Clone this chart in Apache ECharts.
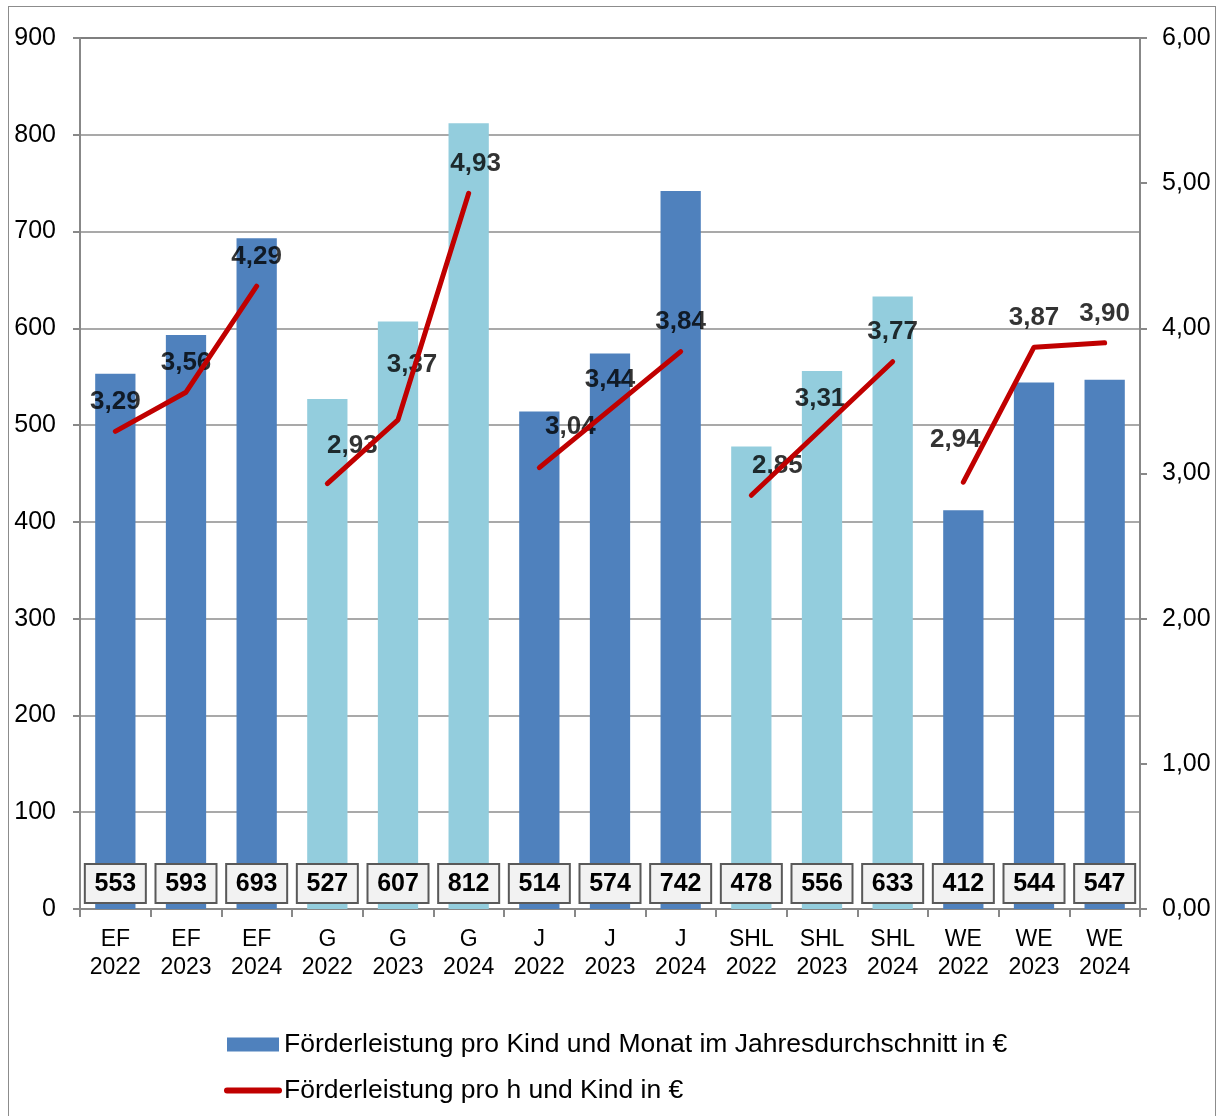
<!DOCTYPE html>
<html>
<head>
<meta charset="utf-8">
<script src="https://cdn.jsdelivr.net/npm/echarts@6/dist/echarts.min.js"></script>
<style>
  html, body { margin: 0; padding: 0; background: #fff; }
  #frame { position: absolute; left: 8px; top: 6px; width: 1208px; height: 1130px; border: 1px solid #8c8c8c; box-sizing: border-box; }
  #chart { position: absolute; left: 0; top: 0; width: 1222px; height: 1116px; }
</style>
</head>
<body>
<div id="frame"></div>
<div id="chart"></div>
<script>
// Daten
const groups = ['EF', 'EF', 'EF', 'G', 'G', 'G', 'J', 'J', 'J', 'SHL', 'SHL', 'SHL', 'WE', 'WE', 'WE'];
const years = ['2022', '2023', '2024', '2022', '2023', '2024', '2022', '2023', '2024', '2022', '2023', '2024', '2022', '2023', '2024'];
const monthlyValues = [553, 593, 693, 527, 607, 812, 514, 574, 742, 478, 556, 633, 412, 544, 547];
const hourlyValues = [3.29, 3.56, 4.29, 2.93, 3.37, 4.93, 3.04, 3.44, 3.84, 2.85, 3.31, 3.77, 2.94, 3.87, 3.90];
const leftTicks = [0, 100, 200, 300, 400, 500, 600, 700, 800, 900];
const rightTicks = [0, 1, 2, 3, 4, 5, 6];
const barName = 'Förderleistung pro Kind und Monat im Jahresdurchschnitt in €';
const lineName = 'Förderleistung pro h und Kind in €';

const categories = groups.map((g, i) => g + '\n' + years[i]);
const groupOrder = ['EF', 'G', 'J', 'SHL', 'WE'];

const darkBlue = '#4f81bd';
const lightBlue = '#93cddd';
const red = '#c00000';

// Verschiebung der Linienbeschriftung (wie im Original)
const labelShift = {
  3: [25, -8], 4: [14, -25], 5: [7, 0], 6: [31, -11], 9: [26, 0], 10: [-2, 0], 12: [-8, -13]
};

const fmt = v => v.toFixed(2).replace('.', ',');

const chart = echarts.init(document.getElementById('chart'));

const barData = monthlyValues.map((v, i) => ({
  value: v,
  itemStyle: { color: groupOrder.indexOf(groups[i]) % 2 === 0 ? darkBlue : lightBlue }
}));

// eine Linie je Gruppe, damit zwischen den Gruppen nichts verbunden wird
const lineSeries = groupOrder.map(g => ({
  name: lineName,
  type: 'line',
  yAxisIndex: 1,
  symbol: 'none',
  z: 5,
  lineStyle: { color: red, width: 5, cap: 'round', join: 'round' },
  itemStyle: { color: red },
  data: hourlyValues.map((v, i) => (groups[i] === g ? v : '-'))
}));

// Beschriftung der Linie über unsichtbare Punkte (unter der Linie)
const lineLabels = {
  name: 'labels',
  type: 'scatter',
  yAxisIndex: 1,
  symbolSize: 1,
  z: 4,
  itemStyle: { color: 'rgba(0,0,0,0)' },
  data: hourlyValues.map((v, i) => {
    const item = { value: v };
    if (labelShift[i]) item.label = { offset: labelShift[i] };
    return item;
  }),
  label: {
    show: true,
    position: 'top',
    distance: 16,
    formatter: p => fmt(p.value),
    fontFamily: 'Liberation Sans',
    fontSize: 26,
    fontWeight: 'bold',
    color: '#000'
  },
  tooltip: { show: false }
};

const option = {
  animation: false,
  backgroundColor: 'transparent',
  textStyle: { fontFamily: 'Liberation Sans' },
  grid: {
    left: 80, right: 82, top: 38, bottom: 207,
    show: true, borderColor: '#222', borderWidth: 1.5, backgroundColor: 'transparent'
  },
  legend: {
    orient: 'vertical',
    left: 219,
    top: 1026,
    itemWidth: 52,
    itemHeight: 14,
    itemGap: 19,
    data: [
      { name: barName, icon: 'rect' },
      { name: lineName, lineStyle: { width: 6, cap: 'round' }, itemStyle: { opacity: 0 } }
    ],
    textStyle: { fontFamily: 'Liberation Sans', fontSize: 26.5, color: '#000' }
  },
  xAxis: {
    type: 'category',
    data: categories,
    axisLine: { lineStyle: { color: '#888', width: 2 } },
    axisTick: { show: true, length: 8, lineStyle: { color: '#888', width: 2 } },
    axisLabel: { color: '#000', fontSize: 23, lineHeight: 28, margin: 17, interval: 0 },
    splitLine: { show: false }
  },
  yAxis: [
    {
      type: 'value',
      min: leftTicks[0],
      max: leftTicks[leftTicks.length - 1],
      interval: 100,
      axisLine: { show: true, lineStyle: { color: '#888', width: 2 } },
      axisTick: { show: true, length: 7, lineStyle: { color: '#888', width: 2 } },
      axisLabel: { color: '#000', fontSize: 25, margin: 24 },
      splitLine: { show: true, lineStyle: { color: '#8c8c8c', width: 1.5 } }
    },
    {
      type: 'value',
      min: rightTicks[0],
      max: rightTicks[rightTicks.length - 1],
      interval: 1,
      axisLine: { show: true, lineStyle: { color: '#888', width: 2 } },
      axisTick: { show: true, length: 7, lineStyle: { color: '#888', width: 2 } },
      axisLabel: { color: '#000', fontSize: 25, margin: 22, formatter: v => fmt(v) },
      splitLine: { show: false }
    }
  ],
  series: [
    {
      name: barName,
      type: 'bar',
      barWidth: '57%',
      itemStyle: { color: darkBlue },
      data: barData,
      z: 2,
      label: {
        show: true,
        position: 'insideBottom',
        distance: 7,
        color: '#000',
        fontFamily: 'Liberation Sans',
        fontSize: 25,
        fontWeight: 'bold',
        backgroundColor: '#f2f2f2',
        borderColor: '#595959',
        borderWidth: 2,
        padding: [7, 7, 5, 7],
        width: 45,
        align: 'center'
      }
    },
    ...lineSeries,
    lineLabels
  ]
};

chart.setOption(option);
</script>
</body>
</html>
